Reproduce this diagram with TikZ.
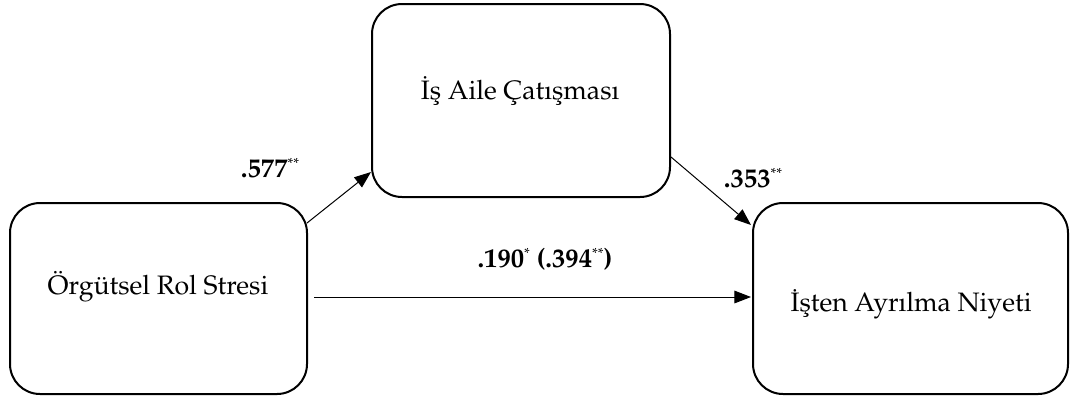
\documentclass[tikz,border=0pt]{standalone}
\usepackage[T1]{fontenc}
\usepackage{mathpazo}
\usetikzlibrary{arrows.meta,calc}
\newcommand{\stars}[1]{\raisebox{6.5pt}{\fontsize{11}{11}\selectfont\mdseries #1}}
\begin{document}
\begin{tikzpicture}[x=0.75pt,y=-0.75pt,
  box/.style={draw, line width=1.5pt, rounded corners=22.5pt, inner sep=0pt, rectangle},
  conn/.style={line width=0.75pt, -{Triangle[length=12.5pt,width=9.5pt]}},
  txt/.style={font=\fontsize{20}{24}\selectfont, inner sep=0pt},
  lbl/.style={font=\fontsize{20}{24}\selectfont\bfseries, inner sep=0pt, anchor=base}]
\useasboundingbox (0,0) rectangle (1070,401);
% boxes
\node[box, minimum width=222.75pt, minimum height=143.25pt] (L) at (158.5,298.5) {};
\node[box, minimum width=223.5pt, minimum height=144.75pt] (T) at (521,100.5) {};
\node[box, minimum width=236.25pt, minimum height=143.25pt] (R) at (910.5,298.5) {};
% texts
\node[txt] (Ltxt) at (158,287) {\"Org\"utsel Rol Stresi};
\node[txt] (Ttxt) at (520,91) {\.I\c{s} Aile \c{C}at\i\c{s}mas\i};
\node[txt] (Rtxt) at (911,304) {\.I\c{s}ten Ayr\i lma Niyeti};
% connectors
\coordinate (a1) at ($(L.east)+(-1,-75.5)$);
\coordinate (a2) at ($(T.west)+(0,71.5)$);
\coordinate (b1) at ($(T.east)+(0,56.5)$);
\coordinate (b2) at ($(R.west)+(-1,-73.5)$);
\coordinate (c1) at ($(L.east)+(6,-1.5)$);
\coordinate (c2) at ($(R.west)+(-1,-1.5)$);
\draw[conn] (a1) -- (a2);
\draw[conn] (b1) -- (b2);
\draw[conn] (c1) -- (c2);
% labels
\node[lbl] (l1) at (270,177) {.577\stars{**}};
\node[lbl] (l2) at (545,267) {.190\stars{*} (.394\stars{**})};
\node[lbl] (l3) at (753,187) {.353\stars{**}};
\end{tikzpicture}
\end{document}
